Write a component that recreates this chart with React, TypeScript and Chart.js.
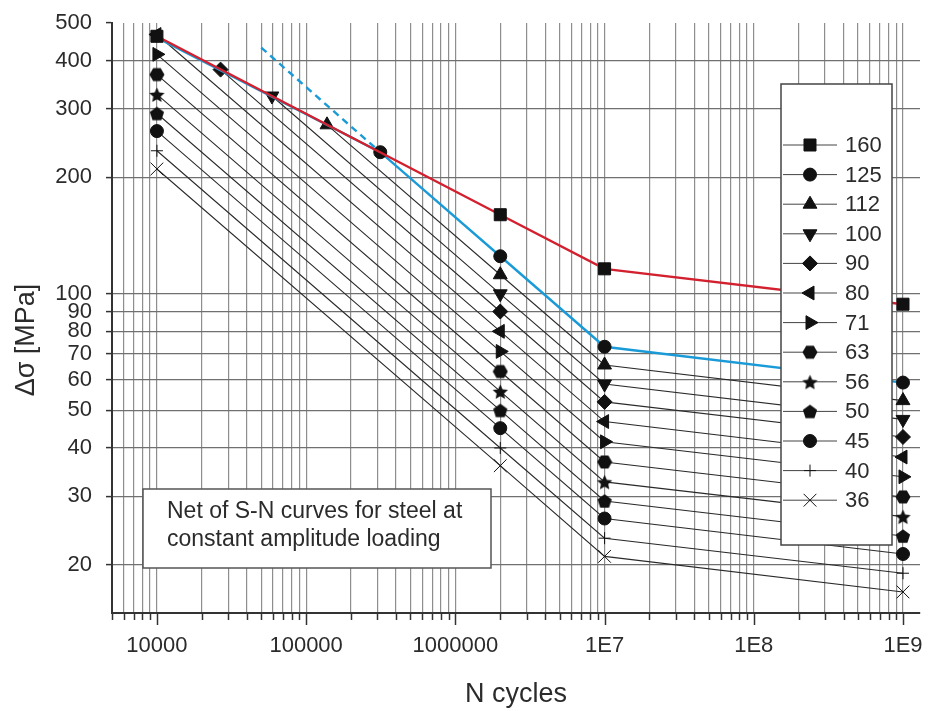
import React, { useEffect, useRef } from 'react';
import { Chart, registerables } from 'chart.js';
import { drawPoint } from 'chart.js/helpers';

Chart.register(...registerables);

// ---- data ----
const categories = ['160', '125', '112', '100', '90', '80', '71', '63', '56', '50', '45', '40', '36'];
const startCycles = [1e4, 3.14e5, 1.38e5, 5.9e4, 2.67e4, 1e4, 1e4, 1e4, 1e4, 1e4, 1e4, 1e4, 1e4];
const startStress = [462, 232, 273, 324, 379, 467, 415, 368, 327, 292, 263, 234, 210];
const kneeCycles = [2e6, 1e7, 1e9];
const stressAt2e6 = [160, 125, 112, 100, 90, 80, 71, 63, 56, 50, 45, 40, 36];
const stressAt1e7 = [116, 73, 65.5, 58.5, 52.6, 46.8, 41.5, 36.8, 32.7, 29.2, 26.3, 23.4, 21];
const stressAt1e9 = [94, 59, 53, 47.4, 42.7, 37.9, 33.7, 29.9, 26.6, 23.7, 21.3, 19, 17];
const envelopeCycles = [1e4];
const envelopeStress = [458];
const dashedCycles = [5e4, 3.14e5];
const dashedStress = [432, 232];
const yTickValues = [20, 30, 40, 50, 60, 70, 80, 90, 100, 200, 300, 400, 500];
const xDecades = [1e4, 1e5, 1e6, 1e7, 1e8, 1e9];
const xDecadeLabels = ['10000', '100000', '1000000', '1E7', '1E8', '1E9'];
const boxLines = ['Net of S-N curves for steel at', 'constant amplitude loading'];

const X_MIN = 5000;
const X_MAX = 1.3e9;
const Y_MIN = 15;
const Y_MAX = 500;

const RED = '#d3202f';
const BLUE = '#1a9bd7';
const FONT = "'Liberation Sans', Arial, sans-serif";

function makeMarker(kind: string, size: number): HTMLCanvasElement {
  const c = document.createElement('canvas');
  c.width = size;
  c.height = size;
  const g = c.getContext('2d') as CanvasRenderingContext2D;
  g.fillStyle = '#111';
  const cx = size / 2;
  const cy = size / 2;
  const R = size / 2 - 0.5;
  g.beginPath();
  if (kind === 'hex') {
    for (let k = 0; k < 6; k++) {
      const a = (k * Math.PI) / 3;
      const px = cx + R * Math.cos(a);
      const py = cy + R * Math.sin(a);
      if (k === 0) g.moveTo(px, py);
      else g.lineTo(px, py);
    }
  } else if (kind === 'star') {
    const r = R * 0.48;
    for (let k = 0; k < 10; k++) {
      const a = -Math.PI / 2 + (k * Math.PI) / 5;
      const rr = k % 2 === 0 ? R : r;
      const px = cx + rr * Math.cos(a);
      const py = cy + rr * Math.sin(a) + 1;
      if (k === 0) g.moveTo(px, py);
      else g.lineTo(px, py);
    }
  } else {
    for (let k = 0; k < 5; k++) {
      const a = -Math.PI / 2 + (k * 2 * Math.PI) / 5;
      const px = cx + R * Math.cos(a);
      const py = cy + R * Math.sin(a) + 0.8;
      if (k === 0) g.moveTo(px, py);
      else g.lineTo(px, py);
    }
  }
  g.closePath();
  g.fill();
  return c;
}

const hexMarker = makeMarker('hex', 16);
const starMarker = makeMarker('star', 17);
const pentMarker = makeMarker('pent', 16);

const markerStyles: any[] = [
  { style: 'rect', rot: 0, r: 8.5 },
  { style: 'circle', rot: 0, r: 6.5 },
  { style: 'triangle', rot: 0, r: 8 },
  { style: 'triangle', rot: 180, r: 8 },
  { style: 'rectRot', rot: 0, r: 7.5 },
  { style: 'triangle', rot: 270, r: 8 },
  { style: 'triangle', rot: 90, r: 8 },
  { style: hexMarker, rot: 0, r: 7 },
  { style: starMarker, rot: 0, r: 7 },
  { style: pentMarker, rot: 0, r: 7 },
  { style: 'circle', rot: 0, r: 6.5 },
  { style: 'cross', rot: 0, r: 6 },
  { style: 'crossRot', rot: 0, r: 9 },
];

function minorXValues(): number[] {
  const out: number[] = [];
  for (let d = 1e3; d <= 1e9; d *= 10) {
    for (let k = 1; k <= 9; k++) {
      const v = k * d;
      if (v >= X_MIN && v <= 1e9) out.push(v);
    }
  }
  return out;
}

const overlayPlugin = {
  id: 'overlay',
  afterDraw(chart: any) {
    const ctx: CanvasRenderingContext2D = chart.ctx;
    const xs = chart.scales.x;
    const area = chart.chartArea;
    ctx.save();

    // x-axis ticks (long at decades, short elsewhere)
    ctx.strokeStyle = '#333';
    ctx.lineWidth = 1.5;
    xs.ticks.forEach((t: any) => {
      const px = Math.round(xs.getPixelForValue(t.value)) + 0.5;
      const major = xDecades.indexOf(t.value) >= 0;
      ctx.beginPath();
      ctx.moveTo(px, area.bottom);
      ctx.lineTo(px, area.bottom + (major ? 12 : 7));
      ctx.stroke();
    });

    // annotation box
    ctx.fillStyle = '#fff';
    ctx.fillRect(143, 489, 348, 79);
    ctx.strokeStyle = '#555';
    ctx.lineWidth = 1.5;
    ctx.strokeRect(143, 489, 348, 79);
    ctx.fillStyle = '#2b2b2b';
    ctx.font = `23px ${FONT}`;
    ctx.textAlign = 'left';
    ctx.textBaseline = 'middle';
    ctx.fillText(boxLines[0], 167, 512);
    ctx.fillText(boxLines[1], 167, 540);

    // legend box
    ctx.fillStyle = '#fff';
    ctx.fillRect(781, 84, 111, 461);
    ctx.strokeStyle = '#444';
    ctx.lineWidth = 1.5;
    ctx.strokeRect(781, 84, 111, 461);
    categories.forEach((cat, i) => {
      const y = 145 + i * 29.6;
      ctx.strokeStyle = '#444';
      ctx.lineWidth = 1;
      ctx.beginPath();
      ctx.moveTo(783, y);
      ctx.lineTo(837, y);
      ctx.stroke();
      const m = markerStyles[i];
      ctx.fillStyle = '#111';
      ctx.strokeStyle = '#111';
      ctx.lineWidth = 1;
      drawPoint(ctx, { pointStyle: m.style, rotation: m.rot, radius: m.r, borderWidth: 1 } as any, 810, y);
      ctx.fillStyle = '#2b2b2b';
      ctx.font = `22px ${FONT}`;
      ctx.textAlign = 'left';
      ctx.textBaseline = 'middle';
      ctx.fillText(cat, 845, y + 1);
    });

    // axis titles
    ctx.fillStyle = '#2b2b2b';
    ctx.font = `27px ${FONT}`;
    ctx.textAlign = 'center';
    ctx.textBaseline = 'alphabetic';
    ctx.fillText('N cycles', (area.left + area.right) / 2, 702);
    ctx.save();
    ctx.translate(34, 340);
    ctx.rotate(-Math.PI / 2);
    ctx.fillText('Δσ [MPa]', 0, 0);
    ctx.restore();

    ctx.restore();
  },
};

export default function App() {
  const ref = useRef<HTMLCanvasElement | null>(null);

  useEffect(() => {
    document.body.style.margin = '0';
    const canvas = ref.current;
    if (!canvas) return;

    const datasets: any[] = categories.map((cat, i) => {
      const pts: { x: number; y: number }[] = [];
      if (i === 1) pts.push({ x: envelopeCycles[0], y: envelopeStress[0] });
      pts.push({ x: startCycles[i], y: startStress[i] });
      pts.push({ x: kneeCycles[0], y: stressAt2e6[i] });
      pts.push({ x: kneeCycles[1], y: stressAt1e7[i] });
      pts.push({ x: kneeCycles[2], y: stressAt1e9[i] });
      const m = markerStyles[i];
      return {
        label: cat,
        data: pts,
        borderColor: i === 0 ? RED : i === 1 ? BLUE : '#2a2a2a',
        borderWidth: i < 2 ? 2.4 : 1.1,
        pointStyle: m.style,
        pointRotation: m.rot,
        pointRadius: i === 1 ? (c: any) => (c.dataIndex === 0 ? 0 : m.r) : m.r,
        pointBackgroundColor: '#111',
        pointBorderColor: '#111',
        pointBorderWidth: 1,
        order: i === 0 ? 0 : i === 1 ? 1 : 2,
        tension: 0,
        fill: false,
      };
    });

    datasets.push({
      label: 'dashed',
      data: dashedCycles.map((x, k) => ({ x, y: dashedStress[k] })),
      borderColor: BLUE,
      borderWidth: 2.4,
      borderDash: [7, 5],
      pointRadius: 0,
      order: 1,
      fill: false,
    });

    const chart = new Chart(canvas, {
      type: 'line',
      data: { datasets },
      options: {
        animation: false,
        responsive: false,
        devicePixelRatio: 1,
        layout: { padding: { left: 0, right: 9, top: 23, bottom: 0 } },
        plugins: { legend: { display: false }, tooltip: { enabled: false }, title: { display: false } },
        scales: {
          x: {
            type: 'logarithmic',
            min: X_MIN,
            max: X_MAX,
            afterBuildTicks: (s: any) => {
              s.ticks = minorXValues().map((v) => ({ value: v, major: xDecades.indexOf(v) >= 0 }));
            },
            afterFit: (s: any) => {
              s.height = 98;
              s.paddingLeft = 0;
              s.paddingRight = 0;
            },
            ticks: {
              autoSkip: false,
              maxRotation: 0,
              minRotation: 0,
              padding: 20,
              color: '#2b2b2b',
              font: { family: FONT, size: 22 },
              callback: (v: any) => {
                const k = xDecades.indexOf(Number(v));
                return k >= 0 ? xDecadeLabels[k] : '';
              },
            },
            grid: { color: '#8e8e8e', lineWidth: 1.2, drawTicks: false },
            border: { display: true, color: '#333', width: 2 },
          },
          y: {
            type: 'logarithmic',
            min: Y_MIN,
            max: Y_MAX,
            afterBuildTicks: (s: any) => {
              s.ticks = yTickValues.map((v) => ({ value: v }));
            },
            afterFit: (s: any) => {
              s.width = 112;
              s.paddingTop = 0;
              s.paddingBottom = 0;
            },
            ticks: {
              autoSkip: false,
              padding: 14,
              color: '#2b2b2b',
              font: { family: FONT, size: 22 },
              callback: (v: any) => String(v),
            },
            grid: {
              color: (c: any) => (c.tick && c.tick.value === Y_MAX ? 'rgba(0,0,0,0)' : '#707070'),
              lineWidth: 1.2,
              drawTicks: true,
              tickLength: 6,
              tickColor: '#333',
              tickWidth: 1.5,
            },
            border: { display: true, color: '#333', width: 2 },
          },
        },
      },
      plugins: [overlayPlugin],
    } as any);

    return () => chart.destroy();
  }, []);

  return (
    <div style={{ width: 930, height: 711, background: '#fff' }}>
      <canvas ref={ref} width={930} height={711} style={{ display: 'block' }} />
    </div>
  );
}
